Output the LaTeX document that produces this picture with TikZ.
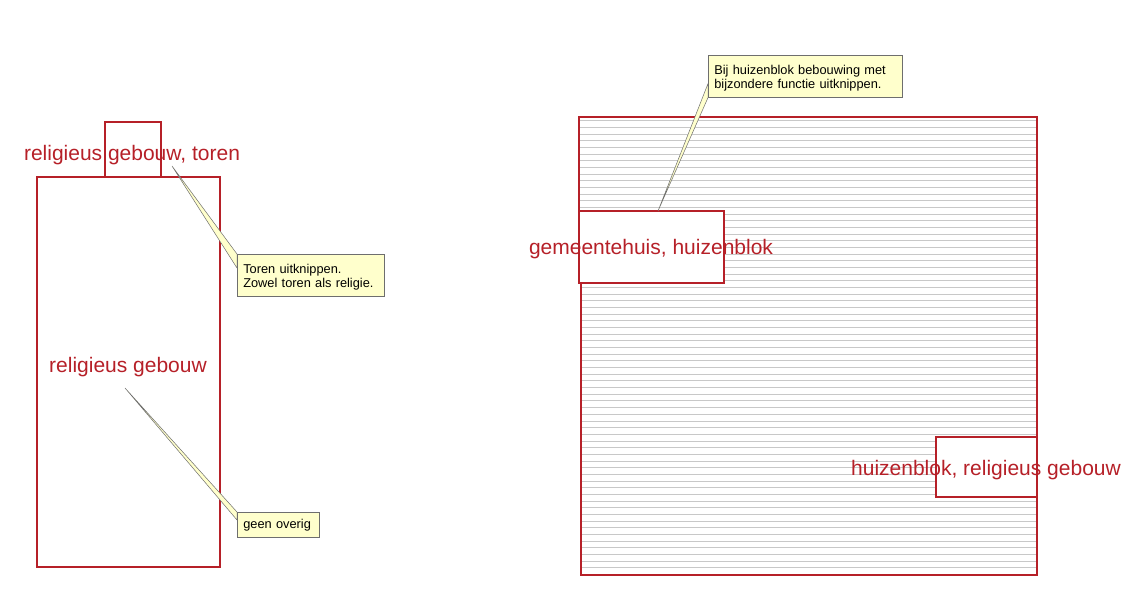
\documentclass[tikz,border=0pt]{standalone}
\usepackage{fontspec}
\setmainfont{Liberation Sans}
\usetikzlibrary{calc}
\definecolor{bred}{RGB}{182,32,40}
\definecolor{hatchgray}{RGB}{200,200,200}
\definecolor{noteyellow}{RGB}{255,255,204}
\definecolor{notegray}{RGB}{110,110,110}
\newcommand{\notestrut}{\rule{0pt}{13.5pt}}
\tikzset{
  outline/.style={draw=bred, line width=1.7pt},
  hatch/.style={draw=hatchgray, line width=0.7pt},
  lbl/.style={text=bred, font=\fontsize{21}{24}\selectfont, inner sep=0pt, anchor=base},
  note/.style={draw=notegray, fill=noteyellow, line width=0.6pt, align=left,
    font=\fontsize{12.8}{14}\selectfont, inner xsep=6pt, inner ysep=2pt, anchor=north west},
  wedge/.style={draw=notegray, fill=noteyellow, line width=0.5pt, line join=round}
}
\begin{document}
\begin{tikzpicture}[x=1pt,y=-1pt]
\useasboundingbox (0,0) rectangle (1140,600);
% left building
\draw[outline] (105,177) -- (105,122) -- (161,122) -- (161,177);
\draw[outline] (37,177) rectangle (220,567);
% right block hatch
\foreach \i in {0,...,67} {
  \draw[hatch] (580,{120.7+6.67*\i}) -- (1036,{120.7+6.67*\i});
}
\fill[white] (579,211) rectangle (724,283);
\fill[white] (936,437) rectangle (1037,497);
\draw[outline] (579,211) -- (579,117) -- (1037,117) -- (1037,575) -- (581,575) -- (581,283);
\draw[outline] (579,211) rectangle (724,283);
\draw[outline] (936,437) rectangle (1037,497);
% labels
\node[lbl] (toren) at (132,160) {religieus gebouw, toren};
\node[lbl] (relig) at (128,372) {religieus gebouw};
\node[lbl] (gem) at (651,254) {gemeentehuis, huizenblok};
\node[lbl] (huiz) at (986,475) {huizenblok, religieus gebouw};
% notes
\node[note, text width=135pt, minimum height=42pt] (n1) at (237,254) {\notestrut Toren uitknippen.\\Zowel toren als religie.};
\node[note, text width=70pt, minimum height=25pt] (n2) at (237,512) {geen overig};
\node[note, text width=182pt, minimum height=42pt] (n3) at (708,55) {\notestrut Bij huizenblok bebouwing met\\bijzondere functie uitknippen.};
\coordinate (t1) at (172,166);
\coordinate (t2) at (125,388);
\coordinate (t3) at (658,211);
\draw[wedge] (t1) -- (n1.north west) -- ($(n1.north west)+(0,14)$) -- cycle;
\draw[wedge] (t2) -- (n2.north west) -- ($(n2.north west)+(0,8)$) -- cycle;
\draw[wedge] (t3) -- ($(n3.south west)+(0,-14)$) -- (n3.south west) -- cycle;
% redraw note borders over wedge bases
\draw[draw=notegray, line width=0.6pt] (n1.north west) rectangle (n1.south east);
\draw[draw=notegray, line width=0.6pt] (n2.north west) rectangle (n2.south east);
\draw[draw=notegray, line width=0.6pt] (n3.north west) rectangle (n3.south east);
\end{tikzpicture}
\end{document}
